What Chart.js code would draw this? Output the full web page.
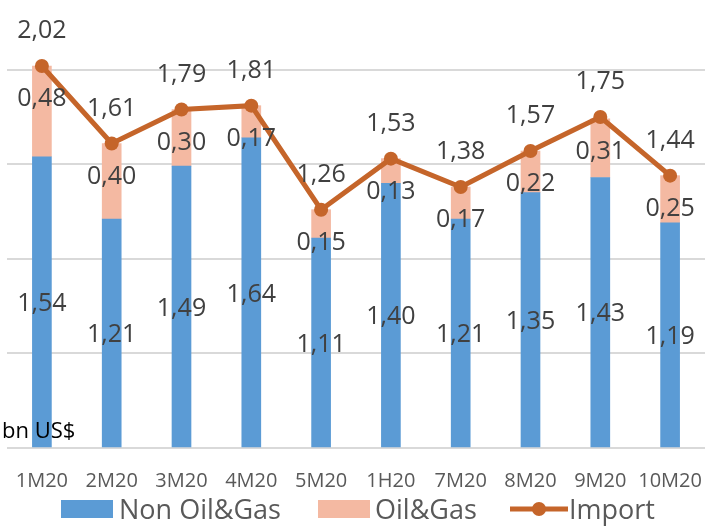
<!DOCTYPE html>
<html>
<head>
<meta charset="utf-8">
<script src="https://cdn.jsdelivr.net/npm/chart.js@4.4.0/dist/chart.umd.min.js"></script>
<style>
  html, body { margin: 0; padding: 0; background: #fff; }
  #wrap { width: 712px; height: 527px; }
</style>
</head>
<body>
<div id="wrap"><canvas id="myChart" width="712" height="527"></canvas></div>
<script>
const months = ["1M20", "2M20", "3M20", "4M20", "5M20", "1H20", "7M20", "8M20", "9M20", "10M20"];
const nonOilGas = [1.54, 1.21, 1.49, 1.64, 1.11, 1.40, 1.21, 1.35, 1.43, 1.19];
const oilGas = [0.48, 0.40, 0.30, 0.17, 0.15, 0.13, 0.17, 0.22, 0.31, 0.25];
const imports = [2.02, 1.61, 1.79, 1.81, 1.26, 1.53, 1.38, 1.57, 1.75, 1.44];

const BLUE = "#5B9BD5";
const SALMON = "#F4B9A2";
const ORANGE = "#C5652A";

const fmt = v => v.toFixed(2).replace(".", ",");

// value labels, unit text and legend
const labelPlugin = {
  id: "valueLabels",
  afterDatasetsDraw(chart) {
    const ctx = chart.ctx;
    ctx.save();
    ctx.font = '25px "Open Sans"';
    ctx.fillStyle = "#404040";
    ctx.textAlign = "center";
    ctx.textBaseline = "middle";

    chart.getDatasetMeta(0).data.forEach((bar, i) => {
      ctx.fillText(fmt(nonOilGas[i]), bar.x, (bar.y + bar.base) / 2 + 2);
    });
    chart.getDatasetMeta(1).data.forEach((bar, i) => {
      ctx.fillText(fmt(oilGas[i]), bar.x, bar.y + 33);
    });
    chart.getDatasetMeta(2).data.forEach((pt, i) => {
      ctx.fillText(fmt(imports[i]), pt.x, pt.y - 35);
    });

    ctx.textAlign = "left";
    ctx.fillStyle = "#000";
    ctx.font = '22px "Open Sans"';
    ctx.fillText("bn US$", 2, 432);

    // legend
    ctx.font = '27px "Open Sans"';
    const ly = 509;
    ctx.fillStyle = BLUE;
    ctx.fillRect(61, 500, 52, 18);
    ctx.fillStyle = SALMON;
    ctx.fillRect(318, 500, 52, 18);
    ctx.strokeStyle = ORANGE;
    ctx.lineWidth = 5;
    ctx.beginPath();
    ctx.moveTo(510, ly);
    ctx.lineTo(568, ly);
    ctx.stroke();
    ctx.fillStyle = ORANGE;
    ctx.beginPath();
    ctx.arc(539, ly, 7, 0, Math.PI * 2);
    ctx.fill();
    ctx.fillStyle = "#595959";
    ctx.fillText("Non Oil&Gas", 119, ly + 2);
    ctx.fillText("Oil&Gas", 375, ly + 2);
    ctx.fillText("Import", 569, ly + 2);
    ctx.restore();
  }
};

new Chart(document.getElementById("myChart").getContext("2d"), {
  type: "bar",
  data: {
    labels: months,
    datasets: [
      {
        label: "Non Oil&Gas",
        data: nonOilGas,
        backgroundColor: BLUE,
        stack: "bars",
        order: 2,
        barThickness: 19
      },
      {
        label: "Oil&Gas",
        data: oilGas,
        backgroundColor: SALMON,
        stack: "bars",
        order: 2,
        barThickness: 19
      },
      {
        type: "line",
        label: "Import",
        data: imports,
        borderColor: ORANGE,
        backgroundColor: ORANGE,
        borderWidth: 5,
        pointRadius: 7,
        pointHoverRadius: 7,
        pointBorderWidth: 0,
        stack: "line",
        order: 1,
        fill: false,
        tension: 0
      }
    ]
  },
  options: {
    responsive: false,
    animation: false,
    layout: { padding: { top: 13, left: 0, right: 5, bottom: 21 } },
    plugins: {
      legend: { display: false },
      tooltip: { enabled: false }
    },
    scales: {
      x: {
        stacked: true,
        afterFit: s => { s.paddingLeft = 0; s.paddingRight = 0; },
        grid: { display: false },
        border: { display: false },
        ticks: {
          padding: 0,
          maxRotation: 0,
          color: "#595959",
          font: { family: "Open Sans", size: 20, lineHeight: "50px" }
        }
      },
      y: {
        stacked: true,
        min: 0,
        max: 2.3,
        afterFit: s => { s.width = 0; },
        ticks: { display: false, stepSize: 0.5, padding: 0 },
        border: { display: false },
        grid: {
          drawTicks: false,
          lineWidth: 2,
          color: c => (Math.abs(c.tick.value * 2 - Math.round(c.tick.value * 2)) < 1e-6 ? "#D9D9D9" : "rgba(0,0,0,0)")
        }
      }
    }
  },
  plugins: [labelPlugin]
});
</script>
</body>
</html>
